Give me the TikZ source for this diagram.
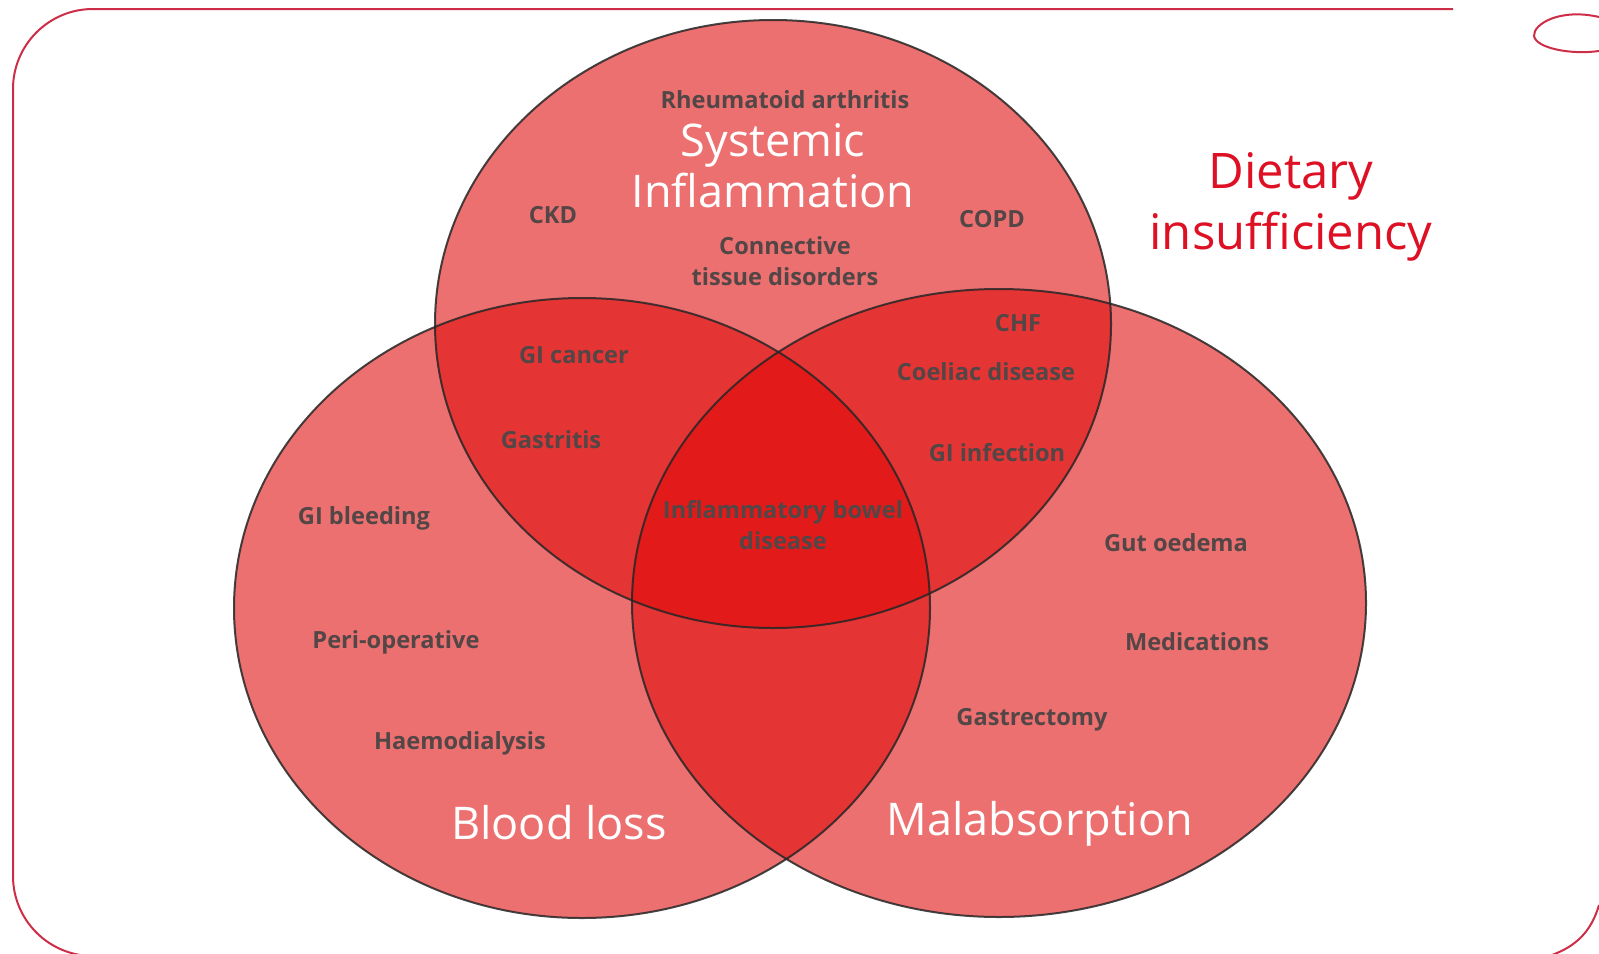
\documentclass[tikz,border=0pt]{standalone}
\usepackage{fontspec}
\setmainfont{Open Sans}
\usepackage{tikz}
\definecolor{vennred}{RGB}{224,8,8}
\definecolor{framered}{RGB}{205,45,70}
\definecolor{labelgrey}{RGB}{82,70,70}
\definecolor{dietred}{RGB}{222,16,36}

\begin{document}
\begin{tikzpicture}[x=0.5pt,y=-0.5pt,
	circ/.style={fill=vennred, fill opacity=0.58},
	rim/.style={draw=black!85, line width=1pt, draw opacity=0.85},
	cause/.style={text=labelgrey, font=\bfseries\fontsize{11.8}{15.5}\selectfont, inner sep=1pt},
	title/.style={text=white, font=\fontsize{22.5}{25.5}\selectfont, align=center, inner sep=1pt}]
	\useasboundingbox (0,0) rectangle (1599,953);

	% frame
	\draw[framered, line width=1pt] (1453,9) -- (93,9) arc[start angle=270, end angle=180, radius=80]
		-- (13,876) arc[start angle=180, end angle=90, radius=80];
	\draw[framered, line width=1pt] (1599,17) .. controls (1560,8) and (1533,24) .. (1534,36)
		.. controls (1536,48) and (1570,55) .. (1599,51);
	\draw[framered, line width=1pt] (1599,905) .. controls (1591,932) and (1576,946) .. (1552,955);

	% the three circles
	\fill[circ] (773,324) ellipse (338 and 304);
	\fill[circ] (582,608) ellipse (348 and 310);
	\fill[circ] (999,603) ellipse (367 and 314);
	\draw[rim] (773,324) ellipse (338 and 304);
	\draw[rim] (582,608) ellipse (348 and 310);
	\draw[rim] (999,603) ellipse (367 and 314);

	% titles
	\node[title] (sys) at (773,166) {Systemic\\Inflammation};
	\node[title] (blood) at (559,823) {Blood loss};
	\node[title] (malab) at (1040,824) {Malabsorption};
	\node[title, text=dietred, font=\fontsize{24.5}{30.5}\selectfont] (diet) at (1291,207) {Dietary\\insufficiency};

	% causes
	\node[cause] (ra) at (785,100) {Rheumatoid arthritis};
	\node[cause] (ckd) at (553,215) {CKD};
	\node[cause] (copd) at (992,219) {COPD};
	\node[cause, align=center] (ctd) at (785,261) {Connective\\tissue disorders};
	\node[cause] (chf) at (1018,323) {CHF};
	\node[cause] (gicancer) at (574,355) {GI cancer};
	\node[cause] (coeliac) at (986,372) {Coeliac disease};
	\node[cause] (gastritis) at (551,440) {Gastritis};
	\node[cause] (giinf) at (997,453) {GI infection};
	\node[cause, align=center] (ibd) at (783,525) {Inflammatory bowel\\disease};
	\node[cause] (gibleed) at (364,518) {GI bleeding};
	\node[cause] (oedema) at (1176,543) {Gut oedema};
	\node[cause] (periop) at (396,642) {Peri-operative};
	\node[cause] (meds) at (1197,642) {Medications};
	\node[cause] (gastrect) at (1032,720) {Gastrectomy};
	\node[cause] (haemo) at (460,743) {Haemodialysis};
\end{tikzpicture}
\end{document}
